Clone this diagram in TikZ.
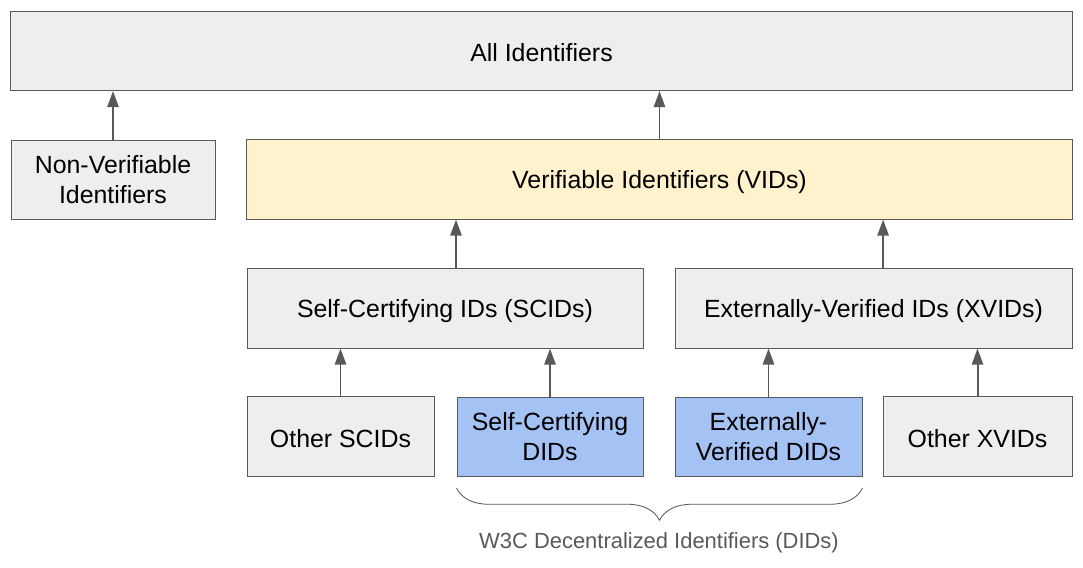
\documentclass[tikz,border=0pt]{standalone}
\usepackage{fontspec}
\setmainfont{Liberation Sans}
\usetikzlibrary{arrows.meta,positioning,calc,decorations.pathreplacing}

\definecolor{boxgray}{HTML}{EEEEEE}
\definecolor{linegray}{HTML}{595959}
\definecolor{vidyellow}{HTML}{FFF2CC}
\definecolor{didblue}{HTML}{A4C2F4}

\tikzset{
  idbox/.style={draw=linegray, line width=0.6pt, fill=boxgray, minimum height=1.98cm,
    align=center, inner sep=0pt, font=\fontsize{17.7}{21.3}\selectfont},
  oneline/.style={text height=15.8pt},
  uparrow/.style={draw=linegray, line width=1.4pt, -{Triangle[length=0.4cm,width=0.28cm]}}
}

\begin{document}
\begin{tikzpicture}[x=0.025cm, y=-0.025cm]
    \useasboundingbox (0,0) rectangle (1083,567);

    % Top level
    \node[idbox, oneline, minimum width=26.525cm] (all) at (541.5,51) {All Identifiers};

    % Second level
    \node[idbox, minimum width=5.1cm] (nonver) at (113,180) {Non-Verifiable\\Identifiers};
    \node[idbox, oneline, fill=vidyellow, minimum width=20.625cm] (vids) at (659.5,179.5) {Verifiable Identifiers (VIDs)};

    % Third level
    \node[idbox, oneline, minimum width=9.9cm] (scids) at (445,308.5) {Self-Certifying IDs (SCIDs)};
    \node[idbox, oneline, minimum width=9.925cm] (xvids) at (873.5,308.5) {Externally-Verified IDs (XVIDs)};

    % Bottom level
    \node[idbox, oneline, minimum width=4.675cm] (otherscids) at (340.5,436.5) {Other SCIDs};
    \node[idbox, fill=didblue, minimum width=4.65cm] (scdids) at (550,437) {Self-Certifying\\DIDs};
    \node[idbox, fill=didblue, minimum width=4.675cm] (xvdids) at (768.5,437) {Externally-\\Verified DIDs};
    \node[idbox, oneline, minimum width=4.725cm] (otherxvids) at (977.5,436.5) {Other XVIDs};

    % Arrows
    \draw[uparrow] (nonver.north) -- (nonver.north |- all.south);
    \draw[uparrow] (vids.north) -- (vids.north |- all.south);
    \draw[uparrow] ([xshift=0.275cm]scids.north) -- ([xshift=0.275cm]scids.north |- vids.south);
    \draw[uparrow] ([xshift=0.24cm]xvids.north) -- ([xshift=0.24cm]xvids.north |- vids.south);
    \draw[uparrow] (otherscids.north) -- (otherscids.north |- scids.south);
    \draw[uparrow] (scdids.north) -- (scdids.north |- scids.south);
    \draw[uparrow] (xvdids.north) -- (xvdids.north |- xvids.south);
    \draw[uparrow] (otherxvids.north) -- (otherxvids.north |- xvids.south);

    % DID brace
    \draw[linegray, line width=0.6pt, decorate, decoration={brace, mirror, amplitude=0.8cm}]
      ([yshift=-0.28cm]scdids.south west) -- ([yshift=-0.28cm]xvdids.south east);
    \node[text=linegray, font=\fontsize{15.6}{18}\selectfont] (didlabel) at (659,543) {W3C Decentralized Identifiers (DIDs)};
\end{tikzpicture}
\end{document}
